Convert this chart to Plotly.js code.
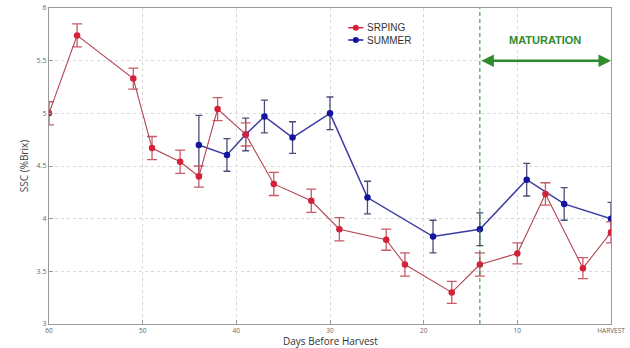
<!DOCTYPE html>
<html>
<head>
<meta charset="utf-8">
<script src="https://cdn.plot.ly/plotly-3.0.1.min.js"></script>
<style>html,body{margin:0;padding:0;background:#fff;}#chart{width:630px;height:348px;}</style>
</head>
<body>
<div id="chart"></div>
<script>
// Spring series
const springDays = [60, 57, 51, 49, 46, 44, 42, 39, 36, 32, 29, 24, 22, 17, 14, 10, 7, 3, 0];
const springSSC  = [5.00, 5.74, 5.33, 4.67, 4.54, 4.40, 5.04, 4.80, 4.33, 4.17, 3.90, 3.80, 3.565, 3.30, 3.565, 3.67, 4.235, 3.53, 3.87];
const springErr  = [0.11, 0.11, 0.10, 0.11, 0.11, 0.10, 0.11, 0.11, 0.11, 0.11, 0.11, 0.10, 0.11, 0.105, 0.11, 0.10, 0.106, 0.10, 0.10];
// Summer series
const summerDays = [44, 41, 39, 37, 34, 30, 26, 19, 14, 9, 5, 0];
const summerSSC  = [4.70, 4.605, 4.80, 4.97, 4.77, 5.00, 4.20, 3.83, 3.90, 4.37, 4.14, 4.00];
const summerErr  = [0.28, 0.155, 0.155, 0.155, 0.15, 0.155, 0.155, 0.155, 0.155, 0.155, 0.155, 0.155];
// Axis ticks
const xTickVals = [60, 50, 40, 30, 20, 10, 0];
const xTickText = ['60', '50', '40', '30', '20', '10', 'HARVEST'];
const yTickVals = [3, 3.5, 4, 4.5, 5, 5.5, 6];
const yTickText = ['3', '3.5', '4', '4.5', '5', '5.5', '6'];
// Maturation window
const maturationStart = 14;
const maturationEnd = 0;
const maturationLevel = 5.5;

const RED = '#d4213a', REDLINE = '#b34452', REDERR = '#c85a68';
const BLUE = '#1414a0', BLUELINE = '#3c3ca0', BLUEERR = '#4c4c78';
const GREEN = '#2e8b2e';

const traces = [
  {
    x: summerDays, y: summerSSC, type: 'scatter', mode: 'lines+markers', name: 'SUMMER',
    line: {color: BLUELINE, width: 1.5},
    marker: {color: BLUE, size: 6.5},
    error_y: {type: 'data', array: summerErr, visible: true, color: BLUEERR, thickness: 1.3, width: 3.5},
    showlegend: false
  },
  {
    x: springDays, y: springSSC, type: 'scatter', mode: 'lines+markers', name: 'SRPING',
    line: {color: REDLINE, width: 1.1},
    marker: {color: RED, size: 6.5},
    error_y: {type: 'data', array: springErr, visible: true, color: REDERR, thickness: 1.3, width: 5},
    showlegend: false
  }
];

const L = 48.7, R = 610.7, T = 8, B = 324;
const px = v => (v - L) / (R - L);
const py = v => (B - v) / (B - T);

const shapes = [
  {type: 'line', xref: 'x', yref: 'paper', x0: maturationStart, x1: maturationStart, y0: 0, y1: 1,
   line: {color: GREEN, width: 1, dash: '4px,3px'}},
  // legend symbols
  {type: 'line', xref: 'paper', yref: 'paper', x0: px(348), x1: px(363), y0: py(27.7), y1: py(27.7),
   line: {color: RED, width: 1.5}},
  {type: 'circle', xref: 'paper', yref: 'paper', x0: px(352.5), x1: px(358.5), y0: py(30.7), y1: py(24.7),
   fillcolor: RED, line: {color: RED, width: 0}},
  {type: 'line', xref: 'paper', yref: 'paper', x0: px(348), x1: px(363), y0: py(40), y1: py(40),
   line: {color: BLUE, width: 1.5}},
  {type: 'circle', xref: 'paper', yref: 'paper', x0: px(352.5), x1: px(358.5), y0: py(43), y1: py(37),
   fillcolor: BLUE, line: {color: BLUE, width: 0}}
];

const annotations = [
  {xref: 'paper', yref: 'paper', x: px(365), y: py(27.7), xanchor: 'left', yanchor: 'middle',
   text: 'SRPING', showarrow: false, font: {family: 'Liberation Sans, Arial', size: 10, color: '#333'}},
  {xref: 'paper', yref: 'paper', x: px(365), y: py(40), xanchor: 'left', yanchor: 'middle',
   text: 'SUMMER', showarrow: false, font: {family: 'Liberation Sans, Arial', size: 10, color: '#333'}},
  {xref: 'x', yref: 'paper', x: (maturationStart + maturationEnd) / 2, y: py(40), xanchor: 'center', yanchor: 'middle',
   text: '<b>MATURATION</b>', showarrow: false, font: {family: 'Liberation Sans, Arial', size: 11, color: GREEN}},
  {xref: 'x', yref: 'y', axref: 'x', ayref: 'y',
   x: maturationEnd, y: maturationLevel, ax: maturationStart, ay: maturationLevel,
   text: '', showarrow: true, arrowhead: 2, startarrowhead: 2, arrowside: 'end+start',
   arrowsize: 1, startarrowsize: 1, arrowwidth: 2.5, arrowcolor: GREEN},
  {xref: 'paper', yref: 'paper', x: 0.5, y: py(341.3), xanchor: 'center', yanchor: 'middle',
   text: 'Days Before Harvest', showarrow: false, borderpad: 0,
   font: {family: 'Open Sans, Liberation Sans, Arial', size: 10, color: '#333'}}
];

const layout = {
  width: 630, height: 348,
  margin: {l: L, r: 630 - R, t: T, b: 348 - B},
  paper_bgcolor: '#fff', plot_bgcolor: '#fff',
  font: {family: 'Open Sans, Liberation Sans, Arial', color: '#555'},
  xaxis: {
    range: [60, 0], tickvals: xTickVals, ticktext: xTickText,
    showgrid: true, gridcolor: '#d8d8d8', griddash: 'dot', gridwidth: 1,
    zeroline: false, showline: true, linecolor: '#999', linewidth: 1.2, mirror: true,
    ticks: 'inside', ticklen: 4, tickcolor: '#999',
    tickfont: {size: 6.5, color: '#666'}
  },
  yaxis: {
    range: [3, 6], tickvals: yTickVals, ticktext: yTickText,
    showgrid: true, gridcolor: '#d8d8d8', griddash: 'dot', gridwidth: 1,
    zeroline: false, showline: true, linecolor: '#999', linewidth: 1.2, mirror: true,
    ticks: 'inside', ticklen: 4, tickcolor: '#999',
    tickfont: {size: 7, color: '#666'},
    title: {text: 'SSC (%Brix)', font: {size: 10, color: '#444'}, standoff: 6}
  },
  shapes: shapes,
  annotations: annotations,
  showlegend: false
};

Plotly.newPlot('chart', traces, layout, {staticPlot: true, displayModeBar: false});
</script>
</body>
</html>
